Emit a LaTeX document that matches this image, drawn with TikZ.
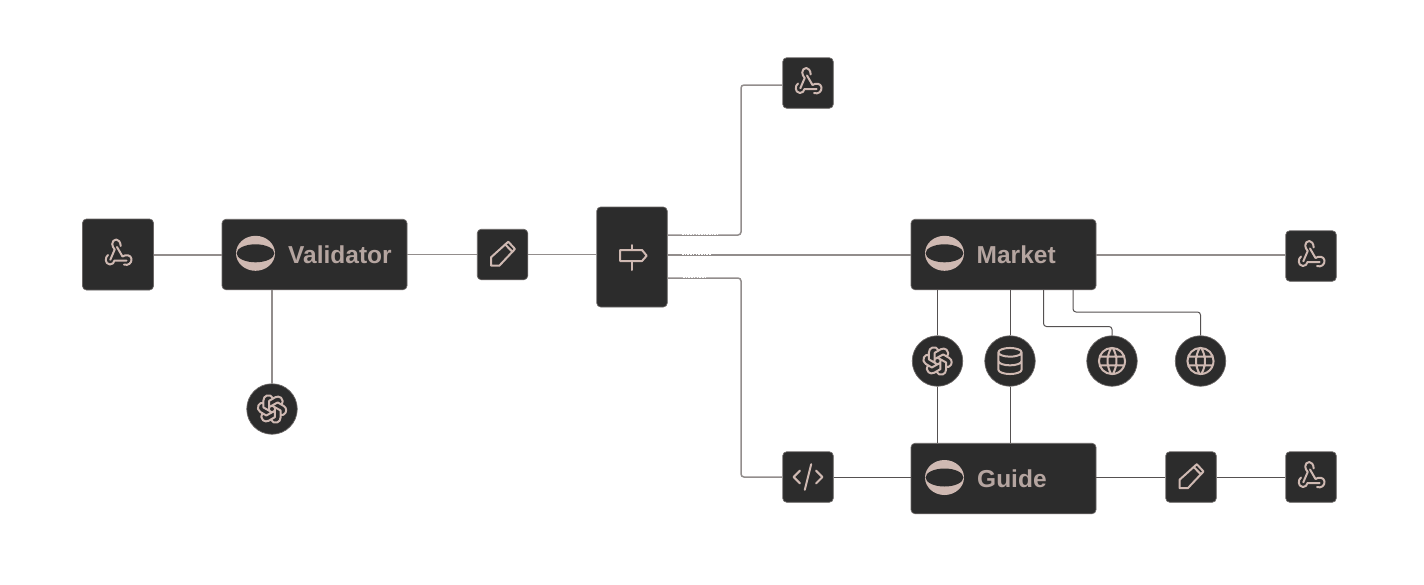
\documentclass[tikz,border=0pt]{standalone}
\usepackage{fontspec}
\setmainfont{Liberation Sans}
\usetikzlibrary{svg.path}
\definecolor{boxfill}{HTML}{2C2C2C}
\definecolor{boxedge}{HTML}{6A6665}
\definecolor{icon}{HTML}{CFB9B2}
\definecolor{labeltext}{HTML}{B5A5A0}
\definecolor{wire}{HTML}{928D8C}
\definecolor{wiredark}{HTML}{555151}
\tikzset{
  x=1pt,y=-1pt,
  boxnode/.style={draw=boxedge,line width=0.7pt,fill=boxfill,rounded corners=4pt,inner sep=0pt,minimum width=#1},
  wide/.style={boxnode=185pt,minimum height=70.5pt},
  tile/.style={boxnode=50.5pt,minimum height=50.5pt},
  disc/.style={circle,draw=boxedge,line width=0.7pt,fill=boxfill,inner sep=0pt,minimum size=50.5pt},
  wirelight/.style={draw=wire,line width=1.5pt,rounded corners=3pt},
  wirethin/.style={draw=wiredark,line width=1pt,rounded corners=3pt},
  ic/.style={draw=icon,line width=2pt,line cap=round,line join=round,fill=none},
  speck/.style={draw=white,line width=0.8pt,dash pattern=on 1.6pt off 1.1pt},
  txt/.style={text=labeltext,font=\bfseries\fontsize{24.5}{24.5}\selectfont,anchor=base west,inner sep=0pt},
}
\newcommand{\iconat}[3]{\begin{scope}[shift={(#1)},xscale=#2,yscale=-#2,shift={(-12pt,-12pt)}]\draw[ic] #3;\end{scope}}
\newcommand{\webhookicon}[1]{\begin{scope}[shift={(#1)}]
  \draw[ic] (-10,1) .. controls (-13,3) and (-13.5,10) .. (-8,10.5) .. controls (-5.5,10.7) and (-4,8.5) .. (-3.5,6.5) -- (8.5,6.5);
  \draw[ic] (6,10.5) .. controls (10,12) and (14,9) .. (13.5,5) .. controls (13,1) and (8,0) .. (4.5,2.5) -- (-1,-7);
  \draw[ic] (2.7,-8) .. controls (2.5,-12) and (0.5,-14.5) .. (-1.7,-14.5) .. controls (-4,-14.5) and (-5.8,-12.5) .. (-5.8,-10) .. controls (-5.8,-8) and (-4.5,-6) .. (-3.3,-4.5) -- (-7.7,5.8);
\end{scope}}
\newcommand{\openaiicon}[1]{\iconat{#1}{1.42}{svg "M11.217 19.384a3.501 3.501 0 0 0 6.783 -1.217v-5.167l-6 -3.35" svg "M5.214 15.014a3.501 3.501 0 0 0 4.446 5.266l4.34 -2.534v-6.946" svg "M6 7.63c-1.391 -.236 -2.787 .395 -3.534 1.689a3.474 3.474 0 0 0 1.271 4.745l4.263 2.514l6 -3.348" svg "M12.783 4.616a3.501 3.501 0 0 0 -6.783 1.217v5.067l6 3.45" svg "M18.786 8.986a3.501 3.501 0 0 0 -4.446 -5.266l-4.34 2.534v6.946" svg "M18 16.302c1.391 .236 2.787 -.395 3.534 -1.689a3.474 3.474 0 0 0 -1.271 -4.745l-4.263 -2.514l-6 3.348"}}
\newcommand{\dbicon}[1]{\iconat{#1}{1.45}{svg "M12 6m-8 0a8 3 0 1 0 16 0a8 3 0 1 0 -16 0" svg "M4 6v6a8 3 0 0 0 16 0v-6" svg "M4 12v6a8 3 0 0 0 16 0v-6"}}
\newcommand{\globeicon}[1]{\iconat{#1}{1.45}{svg "M3 12a9 9 0 1 0 18 0a9 9 0 0 0 -18 0" svg "M3.6 9h16.8" svg "M3.6 15h16.8" svg "M11.5 3a17 17 0 0 0 0 18" svg "M12.5 3a17 17 0 0 1 0 18"}}
\newcommand{\codeicon}[1]{\iconat{#1}{1.6}{svg "M7 8l-4 4l4 4" svg "M17 8l4 4l-4 4" svg "M14 4l-4 16"}}
\newcommand{\pencilicon}[1]{\begin{scope}[shift={(#1)}]
  \draw[ic] (-11.5,2.8) -- (-11.5,11.2) -- (-3.2,11.2) -- (12.5,-5.5) -- (5.8,-12.8) -- cycle;
  \draw[ic] (2.5,-10.2) -- (9.8,-2.8);
\end{scope}}
\newcommand{\signicon}[1]{\begin{scope}[shift={(#1)}]
  \draw[ic] (0.3,-12) -- (0.3,13);
  \draw[ic,fill=boxfill] (-12,-7) -- (10,-7) -- (14.7,-1.3) -- (10,4) -- (-12,4) -- cycle;
\end{scope}}
\newcommand{\sphereicon}[1]{\begin{scope}[shift={(#1)}]
  \fill[icon] (0,0) ellipse [x radius=19.5pt,y radius=17.5pt];
  \fill[boxfill] (0,0) ellipse [x radius=18.9pt,y radius=9pt];
\end{scope}}
\begin{document}
\begin{tikzpicture}
\useasboundingbox[fill=white] (0,0) rectangle (1424,584);
% nodes
\node[boxnode=71pt,minimum height=71pt] (hookA) at (118,254.5) {};
\node[wide] (validator) at (314.5,254.5) {};
\node[tile] (penA) at (502.5,254.5) {};
\node[boxnode=70.5pt,minimum height=100pt] (router) at (632,257) {};
\node[tile] (hookTop) at (808,83) {};
\node[wide] (market) at (1003.5,254.5) {};
\node[tile] (hookRight) at (1311,256) {};
\node[wide] (guide) at (1003.5,478.5) {};
\node[tile] (codeBox) at (808,477) {};
\node[tile] (penB) at (1191,477) {};
\node[tile] (hookLow) at (1311,477) {};
\node[disc] (aiA) at (272,409) {};
\node[disc] (aiB) at (937.5,361) {};
\node[disc] (dbase) at (1010,361) {};
\node[disc] (globeA) at (1112,361) {};
\node[disc] (globeB) at (1200.5,361) {};
% connectors
\draw[wirelight,line width=2pt] (hookA.east |- 0,254.5) -- (validator.west |- 0,254.5);
\draw[wirelight] (validator.east |- 0,254.5) -- (penA.west |- 0,254.5);
\draw[wirelight] (penA.east |- 0,254.5) -- (router.west |- 0,254.5);
\draw[wirelight] (validator.south -| 272,0) -- (aiA.north);
\draw[wirelight] (router.east |- 0,235) -- (741,235) -- (741,85) -- (hookTop.west |- 0,85);
\draw[wirelight] (router.east |- 0,255) -- (market.west |- 0,255);
\draw[wirelight] (router.east |- 0,278) -- (741,278) -- (741,477) -- (codeBox.west |- 0,477);
\draw[wirelight] (market.east |- 0,255) -- (hookRight.west |- 0,255);
\draw[wirethin] (codeBox.east |- 0,477) -- (guide.west |- 0,477);
\draw[wirethin] (market.south -| aiB.north) -- (aiB.north);
\draw[wirethin] (market.south -| dbase.north) -- (dbase.north);
\draw[wirethin] (aiB.south) -- (guide.north -| aiB.south);
\draw[wirethin] (dbase.south) -- (guide.north -| dbase.south);
\draw[wirethin] (market.south -| 1043.5,0) -- (1043.5,326.5) -- (1112,326.5) -- (globeA.north);
\draw[wirethin] (market.south -| 1073,0) -- (1073,312) -- (1200.5,312) -- (globeB.north);
\draw[wirethin] (guide.east |- 0,477) -- (penB.west |- 0,477);
\draw[wirethin] (penB.east |- 0,477) -- (hookLow.west |- 0,477);
% specks over the wires leaving the router
\draw[speck] (682,234.3) -- (718,234.3);
\draw[speck] (682,254.7) -- (711,254.7);
\draw[speck] (683,277.7) -- (707,277.7);
% icons
\webhookicon{118,254}
\webhookicon{808,82.5}
\webhookicon{1311,255.5}
\webhookicon{1311,476.5}
\openaiicon{272,409}
\openaiicon{937.5,361}
\dbicon{1010,361}
\globeicon{1112,361}
\globeicon{1200.5,361}
\codeicon{808,477}
\pencilicon{502.5,254.5}
\pencilicon{1191,477}
\signicon{632,257}
\sphereicon{255.5,253.3}
\sphereicon{944.5,253.3}
\sphereicon{944.5,477.5}
% labels
\node[txt] (tValidator) at (288,263.3) {Validator};
\node[txt] (tMarket) at (976.5,263) {Market};
\node[txt] (tGuide) at (977,487.7) {Guide};
\end{tikzpicture}
\end{document}
